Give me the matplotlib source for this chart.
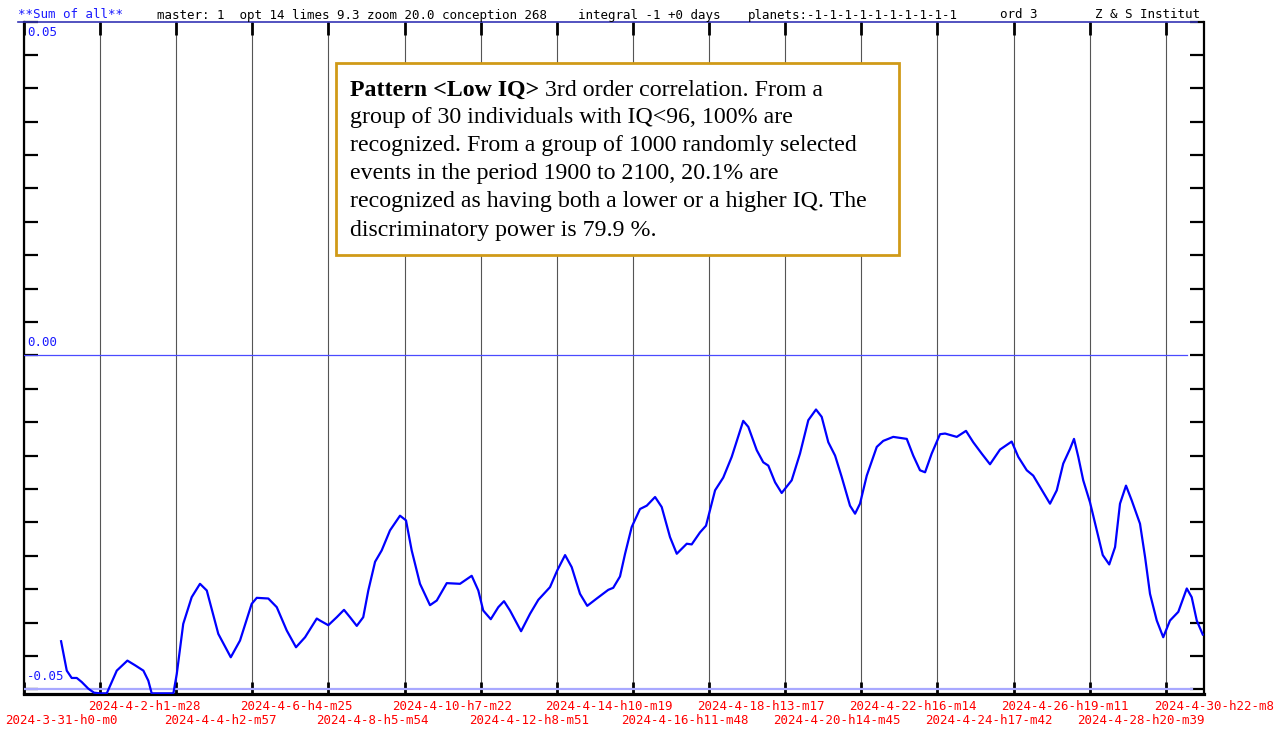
import numpy as np
import matplotlib
matplotlib.use('Agg')
import matplotlib.pyplot as plt
from matplotlib.patches import Rectangle
from matplotlib.lines import Line2D
from datetime import datetime

# curve: hours since 2024-3-31 00:00 and value
hours = [24.1, 27.8, 31.0, 34.3, 37.5, 41.8, 45.5, 49.4, 53.8, 60.3,
         67.2, 72.2, 77.6, 80.8, 83.0, 97.1, 99.3, 103.5, 109.0, 114.4,
         118.8, 126.3, 134.4, 140.4, 148.0, 151.3, 158.8, 164.3, 170.8, 176.8,
         182.7, 190.3, 192.4, 197.8, 203.3, 208.0, 211.9, 216.3, 220.5, 223.8,
         228.2, 232.5, 237.9, 244.4, 248.3, 252.0, 257.4, 263.9, 268.3, 274.8,
         283.4, 291.0, 295.3, 298.5, 303.4, 308.3, 312.0, 315.9, 323.1, 328.9,
         334.3, 341.9, 346.6, 351.7, 356.0, 361.4, 366.1, 372.3, 379.8, 383.0,
         387.4, 390.7, 395.0, 400.4, 404.8, 410.2, 414.5, 419.9, 424.3, 430.8,
         434.0, 439.4, 443.3, 449.2, 454.5, 460.0, 467.5, 470.8, 476.3, 480.5,
         483.8, 488.2, 492.5, 499.0, 504.4, 509.8, 514.8, 518.5, 522.8, 527.2,
         531.5, 536.9, 540.2, 543.4, 547.8, 554.3, 558.5, 565.0, 573.8, 578.0,
         582.4, 585.7, 590.0, 595.4, 598.7, 606.3, 612.3, 617.0, 622.5, 627.9,
         634.4, 642.0, 646.3, 651.8, 656.0, 660.4, 666.9, 671.3, 675.5, 679.9,
         682.5, 685.3, 688.5, 692.9, 697.3, 701.2, 705.4, 709.2, 712.4, 716.3,
         720.0, 725.4, 728.7, 731.9, 736.3, 740.5, 744.9, 750.3, 755.8, 759.0,
         762.3, 766.2]
values = [-0.0428, -0.0472, -0.0483, -0.0483, -0.0489, -0.0499, -0.0505, -0.0506, -0.0506, -0.0472,
          -0.0457, -0.0464, -0.0472, -0.0487, -0.0506, -0.0506, -0.0477, -0.0402, -0.0362, -0.0342,
          -0.0352, -0.0417, -0.0452, -0.0427, -0.0372, -0.0363, -0.0364, -0.0377, -0.0412, -0.0437,
          -0.0422, -0.0394, -0.0397, -0.0404, -0.0392, -0.0381, -0.0392, -0.0405, -0.0392, -0.0352,
          -0.0309, -0.0292, -0.0262, -0.0240, -0.0247, -0.0292, -0.0342, -0.0374, -0.0367, -0.0341,
          -0.0342, -0.0330, -0.0352, -0.0382, -0.0395, -0.0377, -0.0368, -0.0382, -0.0413, -0.0387,
          -0.0366, -0.0347, -0.0322, -0.0299, -0.0317, -0.0357, -0.0375, -0.0364, -0.0351, -0.0348,
          -0.0331, -0.0297, -0.0257, -0.0230, -0.0225, -0.0212, -0.0227, -0.0272, -0.0297, -0.0282,
          -0.0283, -0.0265, -0.0255, -0.0202, -0.0183, -0.0152, -0.0098, -0.0107, -0.0142, -0.0160,
          -0.0165, -0.0190, -0.0206, -0.0187, -0.0147, -0.0097, -0.0081, -0.0092, -0.0130, -0.0150,
          -0.0182, -0.0225, -0.0237, -0.0222, -0.0180, -0.0137, -0.0128, -0.0122, -0.0125, -0.0150,
          -0.0172, -0.0175, -0.0147, -0.0118, -0.0117, -0.0122, -0.0113, -0.0130, -0.0147, -0.0163,
          -0.0141, -0.0129, -0.0152, -0.0172, -0.0180, -0.0197, -0.0222, -0.0202, -0.0162, -0.0140,
          -0.0125, -0.0152, -0.0187, -0.0220, -0.0262, -0.0299, -0.0313, -0.0287, -0.0222, -0.0195,
          -0.0217, -0.0252, -0.0302, -0.0357, -0.0397, -0.0422, -0.0397, -0.0384, -0.0349, -0.0362,
          -0.0397, -0.0418]

date_labels = ['2024-3-31-h0-m0', '2024-4-2-h1-m28', '2024-4-4-h2-m57', '2024-4-6-h4-m25',
               '2024-4-8-h5-m54', '2024-4-10-h7-m22', '2024-4-12-h8-m51', '2024-4-14-h10-m19',
               '2024-4-16-h11-m48', '2024-4-18-h13-m17', '2024-4-20-h14-m45', '2024-4-22-h16-m14',
               '2024-4-24-h17-m42', '2024-4-26-h19-m11', '2024-4-28-h20-m39', '2024-4-30-h22-m8']

header_parts = [('**Sum of all**', 18, '#1a1aff'),
                ('master: 1  opt 14 limes 9.3 zoom 20.0 conception 268', 157, 'black'),
                ('integral -1 +0 days', 578, 'black'),
                ('planets:-1-1-1-1-1-1-1-1-1-1', 748, 'black'),
                ('ord 3', 1000, 'black'),
                ('Z & S Institut', 1095, 'black')]

box_lines = ['group of 30 individuals with IQ<96, 100% are',
             'recognized. From a group of 1000 randomly selected',
             'events in the period 1900 to 2100, 20.1% are',
             'recognized as having both a lower or a higher IQ. The',
             'discriminatory power is 79.9 %.']

W, H = 1286, 729
MONO = 'DejaVu Sans Mono'
SERIF = 'Liberation Serif'


def fx(px):
    return px / W


def fy(py):
    return 1 - py / H


start = datetime(2024, 3, 31)


def label_hours(s):
    y, m, d, hh, mm = s.split('-')
    t = datetime(int(y), int(m), int(d), int(hh[1:]), int(mm[1:]))
    return (t - start).total_seconds() / 3600


tick_hours = [label_hours(s) for s in date_labels]

fig = plt.figure(figsize=(W / 100, H / 100), dpi=100)
ax = fig.add_axes([fx(24), fy(694), fx(1204) - fx(24), fy(21.5) - fy(694)])

ax.plot(hours, values, color='#0000ff', lw=1.6, solid_joinstyle='round', zorder=5)
ax.set_xlim(0, 767)
ax.set_ylim(-0.0507, 0.05)

# reference lines
ax.axhline(0, xmax=0.986, color='#4a4aff', lw=0.9, zorder=3)
ax.axhline(-0.05, xmax=0.99, color='#a8a8ff', lw=1.6, zorder=3)

# vertical grid with black tick marks at both ends
ax.set_xticks(tick_hours)
ax.grid(axis='x', color='#555555', lw=0.8)
ax.tick_params(axis='x', direction='in', length=9, width=2, top=True, bottom=True,
               labelbottom=False, color='black')
ax.set_yticks(np.arange(-0.05, 0.0501, 0.005))
ax.tick_params(axis='y', direction='in', length=10, width=1.6, left=True, right=True,
               labelleft=False, color='black')

ax.spines['top'].set_visible(False)
ax.spines['left'].set_linewidth(1.6)
ax.spines['right'].set_linewidth(1.6)
ax.spines['bottom'].set_linewidth(2.3)

# y labels in blue inside the frame
for val, txt, dy in [(0.05, '0.05', -11), (0.0, '0.00', 12.5), (-0.05, '-0.05', 12.5)]:
    ax.annotate(txt, xy=(0, val), xycoords=('axes fraction', 'data'),
                xytext=(3, dy), textcoords='offset pixels', ha='left', va='center',
                color='#1a1aff', family=MONO, fontsize=9)

# date labels in two rows
for i, (h, s) in enumerate(zip(tick_hours, date_labels)):
    dx = -19 if i == 0 else -12
    dy = -26 if i % 2 == 0 else -13
    ax.annotate(s, xy=(h, 0), xycoords=('data', 'axes fraction'), xytext=(dx, dy),
                textcoords='offset pixels', ha='left', va='center', color='#ff0000',
                family=MONO, fontsize=9, annotation_clip=False)

# header
for txt, x, c in header_parts:
    fig.text(fx(x), fy(15), txt, color=c, family=MONO, fontsize=9, va='center')
fig.add_artist(Line2D([fx(18), fx(1197)], [fy(21.5), fy(21.5)], color='#3535b5', lw=1.2))

# text box
fig.add_artist(Rectangle((fx(336), fy(255)), fx(899) - fx(336), fy(63) - fy(255),
                         transform=fig.transFigure, facecolor='white',
                         edgecolor='#d09a18', lw=2, zorder=10))
renderer = fig.canvas.get_renderer()
fs = 17.2
t = fig.text(fx(350), fy(90), 'Pattern <Low IQ>', family=SERIF, fontweight='bold',
             fontsize=fs, va='center', zorder=11)
bb = t.get_window_extent(renderer)
fig.text(bb.x1 / W, fy(90), ' 3rd order correlation. From a', family=SERIF,
         fontsize=fs, va='center', zorder=11)
for i, line in enumerate(box_lines):
    fig.text(fx(350), fy(90 + 28 * (i + 1)), line, family=SERIF, fontsize=fs,
             va='center', zorder=11)

fig.savefig('out.png', dpi=100)
